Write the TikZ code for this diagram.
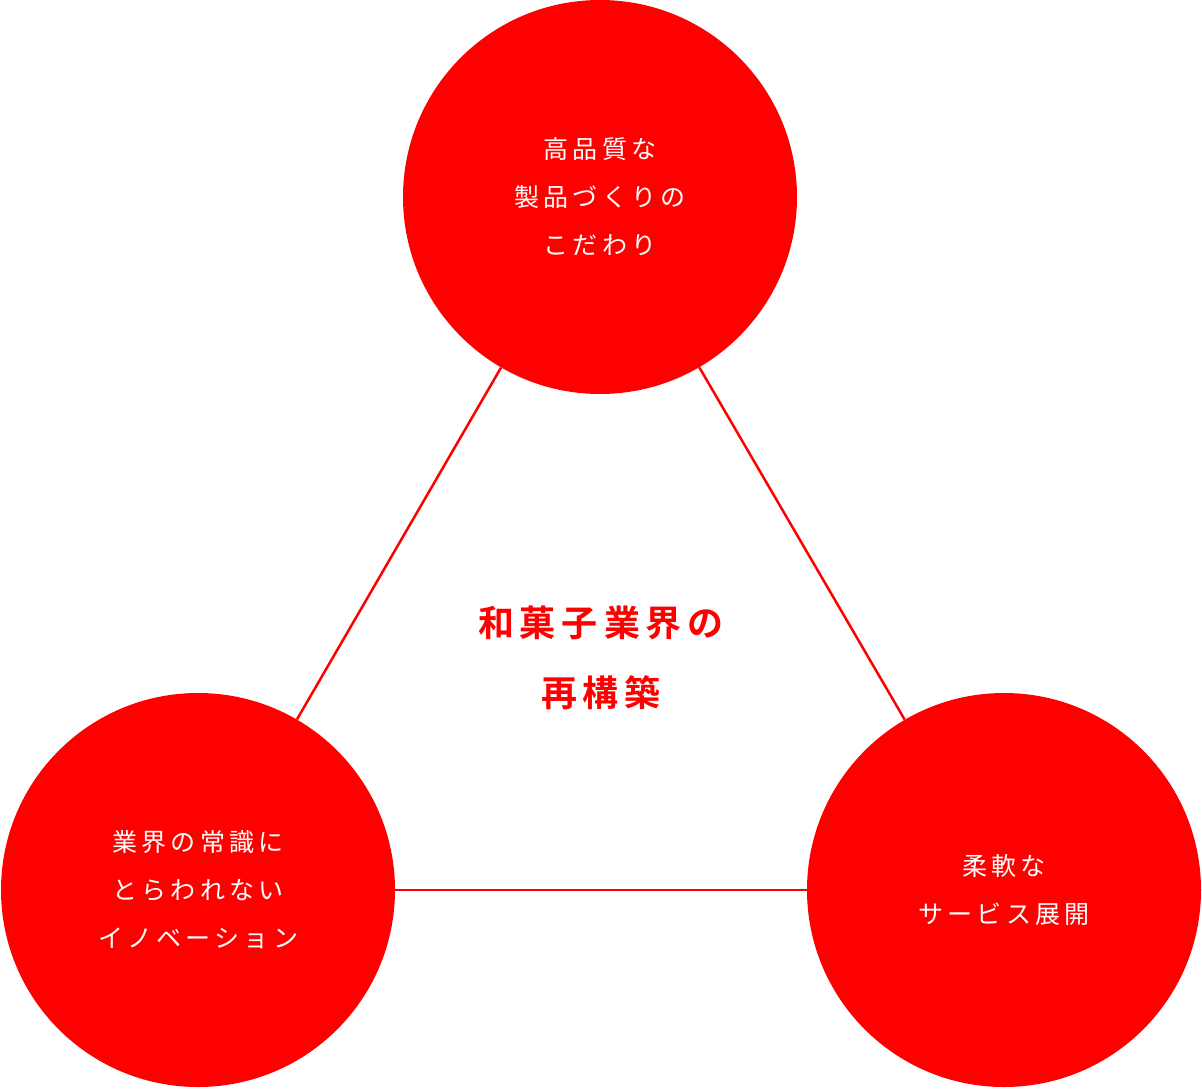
\documentclass[tikz,border=0pt]{standalone}
\usepackage{fontspec}
\newfontfamily\cjk{Noto Sans CJK JP}
\newfontfamily\cjkb{Noto Sans CJK JP Bold}
\definecolor{myred}{RGB}{255,0,0}
\begin{document}
\begin{tikzpicture}[x=1pt,y=-1pt,
  circ/.style={circle,fill=myred,minimum size=394pt,inner sep=0pt,text=white,align=center,font=\cjk\fontsize{25}{48}\selectfont},
  conn/.style={draw=myred,line width=2.5pt}]
\useasboundingbox (0,0) rectangle (1202,1090);
\node[circ] (top) at (600,197) {高\,品\,質\,な\\製\,品\,づ\,く\,り\,の\\こ\,だ\,わ\,り};
\node[circ] (left) at (198,890) {業\,界\,の\,常\,識\,に\\と\,ら\,わ\,れ\,な\,い\\イ\,ノ\,ベ\,ー\,シ\,ョ\,ン};
\node[circ] (right) at (1004,890) {柔\,軟\,な\\サ\,ー\,ビ\,ス\,展\,開};
\begin{scope}[on background layer/.try]
\end{scope}
\draw[conn] (top) -- (left);
\draw[conn] (top) -- (right);
\draw[conn] (left) -- (right);
\node[text=myred,align=center,font=\cjkb\fontsize{36}{70}\selectfont] (c) at (601,658) {和\,菓\,子\,業\,界\,の\\再\,構\,築};
\end{tikzpicture}
\end{document}
